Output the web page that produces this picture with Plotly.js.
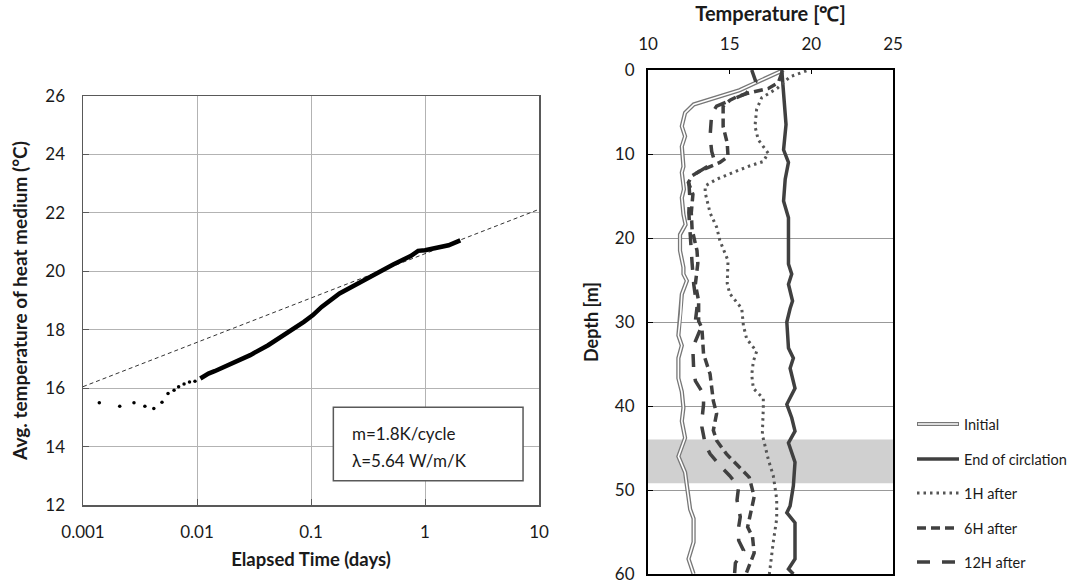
<!DOCTYPE html>
<html>
<head>
<meta charset="utf-8">
<script src="https://cdn.plot.ly/plotly-3.0.1.min.js"></script>
<style>html,body{margin:0;padding:0;background:#fff}#chart{width:1071px;height:586px}</style>
</head>
<body>
<div id="chart"></div>
<script>
// ---------- Left chart: temperature of heat medium vs elapsed time ----------
const earlyTime = [0.00139, 0.0021, 0.0028, 0.00349, 0.00418, 0.00493, 0.00557, 0.00629, 0.0069, 0.0077, 0.0086, 0.0096];
const earlyTemp = [15.50, 15.38, 15.50, 15.38, 15.30, 15.52, 15.82, 15.93, 16.05, 16.14, 16.21, 16.24];
const curveTime = [0.0107, 0.0126, 0.01426, 0.0204, 0.0293, 0.0421, 0.0604, 0.0866, 0.104, 0.124, 0.178, 0.256, 0.367, 0.526, 0.755, 0.87, 1.0, 1.25, 1.61, 2.04];
const curveTemp = [16.33, 16.50, 16.58, 16.84, 17.13, 17.47, 17.85, 18.27, 18.50, 18.78, 19.24, 19.58, 19.92, 20.23, 20.53, 20.70, 20.72, 20.80, 20.89, 21.06];
const fitTime = [0.001, 10];
const fitTemp = [16.05, 22.12];
const timeTicks = [0.001, 0.01, 0.1, 1, 10];
const timeTickText = ['0.001', '0.01', '0.1', '1', '10'];
const noteLines = ['m=1.8K/cycle', 'λ=5.64 W/m/K'];

// ---------- Right chart: temperature profiles vs depth ----------
const depthTicks = [0, 10, 20, 30, 40, 50, 60];
const tempTicks = [10, 15, 20, 25];
const initDepth = [0, 2.4, 4.1, 5.1, 6.7, 7.9, 9.1, 11.5, 12.2, 14.2, 15.2, 17.2, 18.4, 19.6, 21.5, 23.5, 24.3, 25.1, 26.7, 29.0, 31.6, 32.8, 34.3, 36.7, 38.3, 40.2, 41.8, 43.8, 46.0, 47.9, 49.5, 52.3, 53.4, 56.2, 58.2, 60];
const initTemp  = [18.3, 15.6, 12.8, 12.27, 12.07, 12.27, 12.07, 12.17, 12.07, 12.2, 12.07, 12.17, 12.3, 11.96, 11.96, 12.17, 12.17, 12.38, 12.07, 12.0, 11.86, 12.07, 11.86, 11.86, 12.07, 12.17, 12.07, 12.27, 11.86, 12.27, 12.38, 12.58, 12.79, 12.79, 12.48, 12.79];

const endDepth = [0, 2.6, 6.5, 9.5, 11.0, 13.0, 15.6, 17.6, 20, 23.1, 24.3, 25.5, 27.5, 28.4, 30.0, 33.1, 34.3, 35.5, 37.9, 39.8, 41.4, 43.0, 44.4, 46.7, 49.5, 51.9, 52.7, 53.9, 58.2, 59.4, 60];
const endTemp  = [18.19, 18.3, 18.45, 18.3, 18.6, 18.4, 18.3, 18.6, 18.6, 18.6, 18.8, 18.6, 18.85, 18.7, 18.5, 18.6, 18.9, 18.7, 19.0, 18.5, 18.8, 19.0, 18.6, 19.0, 18.9, 18.7, 18.5, 19.0, 19.0, 18.6, 18.9];

const h1Depth = [0.1, 0.8, 2.2, 3.3, 4.7, 6.7, 8.3, 9.3, 9.9, 10.9, 11.4, 12.2, 13.0, 13.8, 14.6, 17.0, 18.7, 20.3, 22.7, 25.4, 26.6, 28.4, 30.4, 32.0, 33.5, 34.7, 36.3, 37.9, 39.1, 40.2, 43.4, 46.4, 48.3, 51.1, 53.4, 56.2, 59.0, 60];
const h1Temp  = [19.7, 18.7, 17.9, 16.96, 16.65, 16.55, 16.75, 17.16, 17.36, 17.05, 16.25, 15.2, 14.2, 13.5, 13.5, 13.8, 14.2, 14.4, 14.9, 14.85, 15.0, 15.74, 15.84, 16.04, 16.65, 16.45, 16.35, 16.45, 17.06, 17.06, 17.0, 17.37, 17.67, 17.88, 17.88, 17.67, 17.47, 17.43];

const h6Depth = [0.3, 1.5, 2.2, 2.8, 3.2, 3.6, 4.3, 6.7, 8.7, 10.3, 11.0, 11.4, 12.0, 12.6, 13.4, 14.8, 17.0, 19.0, 21.5, 23.0, 25.5, 27.5, 29.9, 30.7, 33.8, 36.2, 39.4, 40.9, 42.9, 44.1, 45.7, 47.3, 48.5, 50.8, 52.8, 54.4, 55.6, 57.5, 60];
const h6Temp  = [18.2, 17.98, 17.37, 16.04, 15.43, 15.02, 14.6, 14.6, 14.85, 14.9, 14.4, 13.9, 13.2, 12.7, 12.47, 12.75, 12.65, 12.7, 13.0, 13.05, 12.9, 13.1, 13.1, 13.3, 13.4, 13.8, 14.0, 14.2, 14.0, 14.2, 14.8, 15.6, 16.2, 16.5, 16.3, 16.1, 16.4, 16.5, 16.0];

const h12Depth = [0, 1.4, 2.8, 3.6, 4.3, 5.2, 6.5, 7.9, 9.7, 10.7, 11.3, 12.0, 12.6, 13.4, 14.8, 17.0, 19.0, 21.0, 23.0, 25.5, 26.7, 28.3, 29.9, 30.9, 32.3, 33.4, 35.8, 37.0, 38.6, 39.8, 41.7, 42.5, 44.5, 45.7, 47.5, 48.3, 49.6, 51.2, 53.2, 54.4, 56.0, 57.2, 58.7, 60];
const h12Temp  = [16.35, 16.6, 16.0, 15.0, 14.2, 13.9, 13.85, 13.8, 13.9, 14.05, 13.8, 13.2, 12.7, 12.5, 12.55, 12.5, 12.55, 12.65, 12.7, 12.8, 12.9, 13.0, 12.9, 13.2, 12.9, 12.75, 12.8, 12.9, 13.4, 13.4, 13.3, 13.3, 13.5, 13.8, 14.6, 15.0, 15.55, 15.45, 15.65, 15.55, 15.55, 15.85, 15.35, 15.3];

const bandDepth = [44.0, 49.2];
const seriesNames = ['Initial', 'End of circlation', '1H after', '6H after', '12H after'];

const FONT = 'Lato, "Open Sans", sans-serif';
const TXT = '#1a1a1a';
const DARK = '#404040';

const traces = [
  {x: fitTime, y: fitTemp, xaxis: 'x', yaxis: 'y', mode: 'lines', line: {color: '#333', width: 1, dash: '4px,3px'}, showlegend: false, hoverinfo: 'skip'},
  {x: earlyTime, y: earlyTemp, xaxis: 'x', yaxis: 'y', mode: 'markers', marker: {color: '#000', size: 3.5}, showlegend: false},
  {x: curveTime, y: curveTemp, xaxis: 'x', yaxis: 'y', mode: 'lines', line: {color: '#000', width: 4.5}, showlegend: false},
  // Initial: double line
  {x: initTemp, y: initDepth, xaxis: 'x2', yaxis: 'y2', mode: 'lines', line: {color: '#777', width: 4.2}, name: seriesNames[0], showlegend: false},
  {x: initTemp, y: initDepth, xaxis: 'x2', yaxis: 'y2', mode: 'lines', line: {color: '#fff', width: 1.6}, showlegend: false, hoverinfo: 'skip'},
  {x: endTemp, y: endDepth, xaxis: 'x2', yaxis: 'y2', mode: 'lines', line: {color: DARK, width: 3.5}, name: seriesNames[1], showlegend: false},
  {x: h1Temp, y: h1Depth, xaxis: 'x2', yaxis: 'y2', mode: 'lines', line: {color: '#555', width: 3, dash: '2.5px,4px'}, name: seriesNames[2], showlegend: false},
  {x: h6Temp, y: h6Depth, xaxis: 'x2', yaxis: 'y2', mode: 'lines', line: {color: DARK, width: 3.5, dash: '9px,5px'}, name: seriesNames[3], showlegend: false},
  {x: h12Temp, y: h12Depth, xaxis: 'x2', yaxis: 'y2', mode: 'lines', line: {color: DARK, width: 3.5, dash: '13px,12px'}, name: seriesNames[4], showlegend: false}
];

// helpers for pixel -> paper (margins are zero, so paper == figure)
const W = 1071, H = 586;
const px = v => v / W, py = v => 1 - v / H;

const shapes = [
  {type: 'rect', xref: 'x2 domain', yref: 'y2', x0: 0, x1: 1, y0: bandDepth[0], y1: bandDepth[1], fillcolor: '#d0d0d0', line: {width: 0}, layer: 'below'},
  {type: 'rect', xref: 'x domain', yref: 'y domain', x0: 0.549, x1: 0.965, y0: 0.059, y1: 0.239, fillcolor: '#fff', line: {color: '#595959', width: 1.5}}
];
const annotations = [
  {xref: 'x domain', yref: 'y domain', x: 0.585, y: 0.176, xanchor: 'left', yanchor: 'middle', showarrow: false, text: noteLines[0], font: {family: FONT, size: 17, color: TXT}},
  {xref: 'x domain', yref: 'y domain', x: 0.585, y: 0.110, xanchor: 'left', yanchor: 'middle', showarrow: false, text: noteLines[1], font: {family: FONT, size: 17, color: TXT}}
];

// manual legend
const legY = [424, 459, 493, 528, 562];
const legStyles = [
  null,
  {color: DARK, width: 3.5},
  {color: '#555', width: 3, dash: '2.5px,4px'},
  {color: DARK, width: 3.5, dash: '9px,5px'},
  {color: DARK, width: 3.5, dash: '13px,12px'}
];
legY.forEach((yy, i) => {
  if (i === 0) {
    shapes.push({type: 'line', xref: 'paper', yref: 'paper', x0: px(917), x1: px(959), y0: py(yy), y1: py(yy), line: {color: '#777', width: 4.2}});
    shapes.push({type: 'line', xref: 'paper', yref: 'paper', x0: px(918), x1: px(958), y0: py(yy), y1: py(yy), line: {color: '#fff', width: 1.6}});
  } else {
    shapes.push({type: 'line', xref: 'paper', yref: 'paper', x0: px(917), x1: px(959), y0: py(yy), y1: py(yy), line: legStyles[i]});
  }
  annotations.push({xref: 'paper', yref: 'paper', x: px(962), y: py(yy), xanchor: 'left', yanchor: 'middle', showarrow: false, text: seriesNames[i], font: {family: FONT, size: 14.5, color: TXT}});
});

const layout = {
  width: W, height: H,
  margin: {l: 0, r: 0, t: 0, b: 0},
  paper_bgcolor: '#fff', plot_bgcolor: '#fff',
  showlegend: false,
  font: {family: FONT, color: TXT},
  xaxis: {
    domain: [px(83), px(539)], anchor: 'y', type: 'log', range: [-3, 1],
    tickvals: timeTicks, ticktext: timeTickText,
    showgrid: true, gridcolor: '#b3b3b3', gridwidth: 1,
    showline: true, linecolor: '#595959', linewidth: 1.5, mirror: true,
    ticks: 'inside', ticklen: 6, tickcolor: '#595959',
    tickfont: {family: FONT, size: 17, color: TXT}, ticklabelstandoff: 11,
    zeroline: false,
    title: {text: 'Elapsed Time (days)', font: {family: FONT, size: 18.5, weight: 'bold', color: TXT}, standoff: 12}
  },
  yaxis: {
    domain: [py(505), py(96)], anchor: 'x', range: [12, 26], dtick: 2,
    showgrid: true, gridcolor: '#b3b3b3', gridwidth: 1,
    showline: true, linecolor: '#595959', linewidth: 1.5, mirror: true,
    ticks: 'inside', ticklen: 6, tickcolor: '#595959',
    tickfont: {family: FONT, size: 17, color: TXT}, ticklabelstandoff: 13,
    zeroline: false,
    title: {text: 'Avg. temperature of heat medium (°C)', font: {family: FONT, size: 19, weight: 'bold', color: TXT}, standoff: 12}
  },
  xaxis2: {
    domain: [px(648), px(893)], anchor: 'y2', side: 'top', range: [10, 25],
    tickvals: tempTicks, ticklabeloverflow: 'allow',
    showgrid: false, showline: true, linecolor: '#000', linewidth: 2, mirror: true,
    ticks: 'inside', ticklen: 4, tickcolor: '#000',
    tickfont: {family: FONT, size: 17, color: TXT}, ticklabelstandoff: 11,
    zeroline: false,
    title: {text: 'Temperature [℃]', font: {family: FONT, size: 20, weight: 'bold', color: TXT}, standoff: 6}
  },
  yaxis2: {
    domain: [py(574), py(70)], anchor: 'x2', range: [60, 0],
    tickvals: depthTicks, ticklabeloverflow: 'allow',
    showgrid: true, gridcolor: '#999', gridwidth: 1,
    showline: true, linecolor: '#000', linewidth: 2, mirror: true,
    ticks: 'inside', ticklen: 5, tickcolor: '#000',
    tickfont: {family: FONT, size: 17, color: TXT}, ticklabelstandoff: 8,
    zeroline: false,
    title: {text: 'Depth [m]', font: {family: FONT, size: 18, weight: 'bold', color: TXT}, standoff: 12}
  },
  shapes: shapes,
  annotations: annotations
};

Plotly.newPlot('chart', traces, layout, {staticPlot: true, displayModeBar: false});
</script>
</body>
</html>
